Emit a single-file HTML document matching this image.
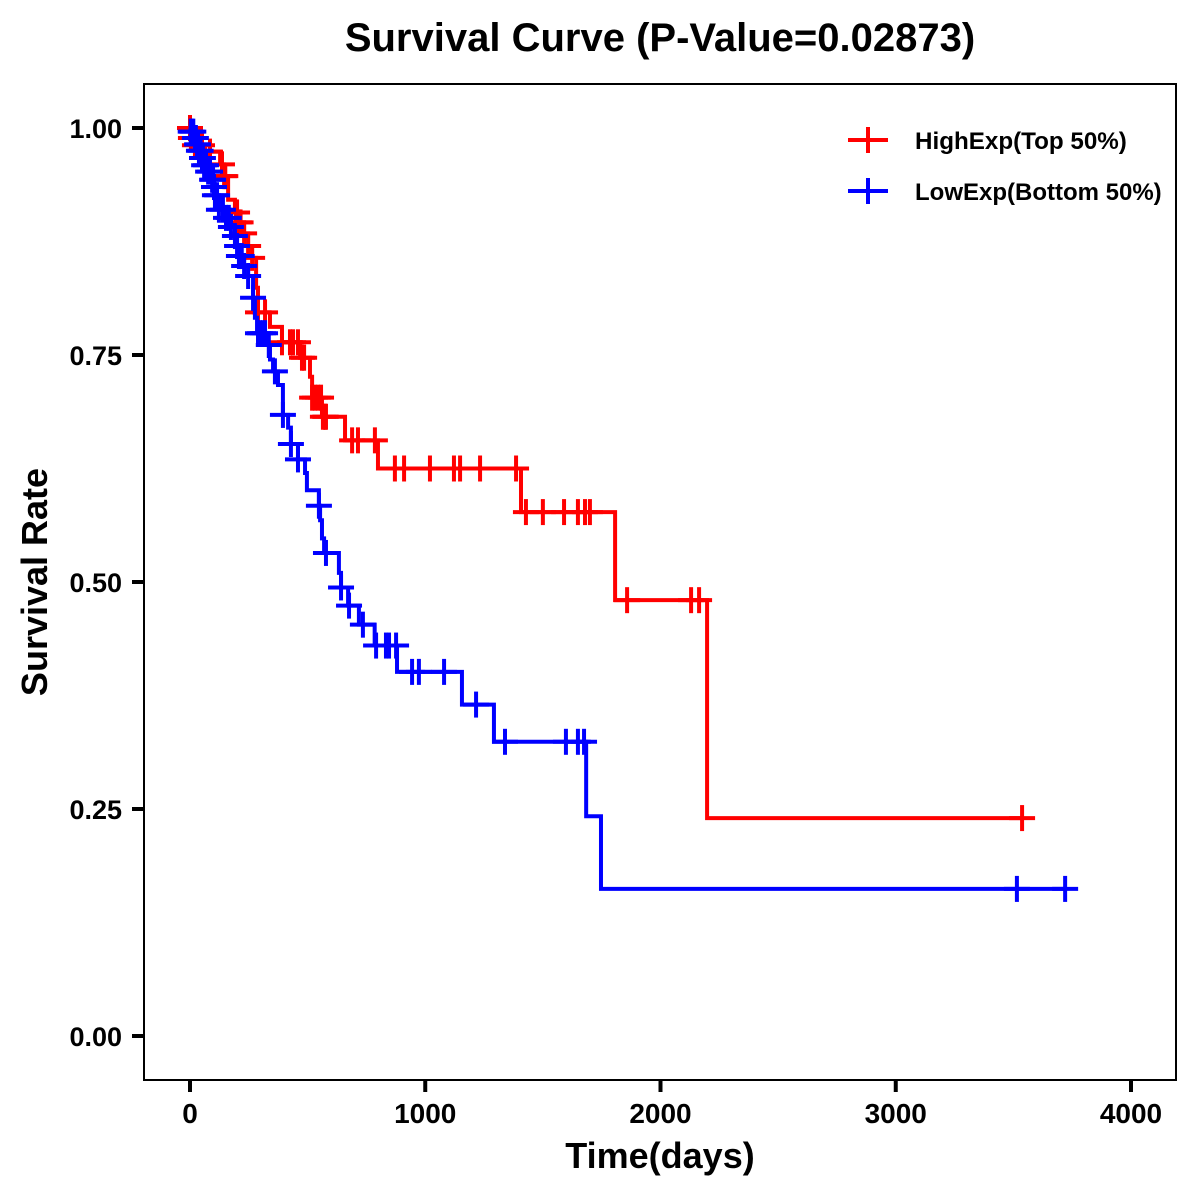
<!DOCTYPE html>
<html>
<head>
<meta charset="utf-8">
<title>Survival Curve</title>
<style>
html,body{margin:0;padding:0;background:#fff;}
svg{display:block;}
text{font-family:"Liberation Sans",Arial,sans-serif;font-weight:bold;fill:#000;}
</style>
</head>
<body>
<svg id="chart" xmlns="http://www.w3.org/2000/svg" width="1200" height="1200" viewBox="0 0 1200 1200">
  <rect x="0" y="0" width="1200" height="1200" fill="#fff"/>
  <text x="660" y="51" font-size="40" text-anchor="middle">Survival Curve (P-Value=0.02873)</text>
  <rect x="144" y="84" width="1032" height="996" fill="none" stroke="#000" stroke-width="2"/>
  <g id="axes"></g>
  <g id="series"></g>
  <text x="660" y="1168" font-size="36" text-anchor="middle">Time(days)</text>
  <text transform="translate(47,582) rotate(-90)" font-size="36" text-anchor="middle">Survival Rate</text>
  <g>
    <g>
      <line x1="848" x2="888" y1="140" y2="140" stroke="#ff0000" stroke-width="4"/>
      <line x1="868" x2="868" y1="127" y2="153" stroke="#ff0000" stroke-width="4"/>
      <text x="915" y="149" font-size="24.2">HighExp(Top 50%)</text>
    </g>
    <g>
      <line x1="848" x2="888" y1="191" y2="191" stroke="#0000ff" stroke-width="4"/>
      <line x1="868" x2="868" y1="178" y2="204" stroke="#0000ff" stroke-width="4"/>
      <text x="915" y="200" font-size="24">LowExp(Bottom 50%)</text>
    </g>
  </g>
</svg>
<script>
var xTicks = [0, 1000, 2000, 3000, 4000];
var yTicks = [0, 0.25, 0.5, 0.75, 1];
var yTickLabels = ['0.00', '0.25', '0.50', '0.75', '1.00'];

var highTimes = [0, 4, 21, 64, 128, 145, 162, 191, 208, 230, 247, 264, 281, 289, 340, 391, 468, 510, 519, 561, 659, 799, 1407, 1807, 2198];
var highSurv = [1.000, 0.989, 0.981, 0.974, 0.960, 0.947, 0.921, 0.907, 0.896, 0.884, 0.870, 0.857, 0.824, 0.797, 0.781, 0.764, 0.747, 0.726, 0.703, 0.682, 0.656, 0.625, 0.577, 0.480, 0.240];
var highEnd = 3537;
var highCensor = [0, 4, 21, 51, 85, 136, 145, 150, 195, 200, 208, 215, 230, 247, 264, 289, 319, 391, 425, 438, 459, 476, 485, 519, 531, 544, 557, 565, 574, 578, 689, 714, 786, 871, 910, 1020, 1122, 1148, 1233, 1386, 1428, 1500, 1590, 1649, 1679, 1700, 1858, 2130, 2164, 3537];

var lowTimes = [0, 2, 21, 30, 38, 51, 60, 77, 94, 102, 106, 123, 153, 174, 191, 200, 208, 230, 247, 268, 276, 285, 323, 340, 353, 374, 395, 417, 429, 459, 489, 497, 548, 553, 561, 570, 633, 642, 672, 718, 785, 880, 1156, 1292, 1684, 1747];
var lowSurv = [1.000, 0.996, 0.989, 0.982, 0.975, 0.967, 0.959, 0.952, 0.943, 0.935, 0.926, 0.910, 0.901, 0.891, 0.881, 0.870, 0.859, 0.848, 0.837, 0.813, 0.791, 0.774, 0.761, 0.745, 0.732, 0.717, 0.684, 0.670, 0.652, 0.635, 0.620, 0.601, 0.584, 0.568, 0.548, 0.532, 0.510, 0.494, 0.474, 0.453, 0.430, 0.401, 0.365, 0.324, 0.242, 0.162];
var lowEnd = 3720;
var lowCensor = [3, 8, 14, 21, 25, 30, 34, 38, 45, 51, 55, 60, 68, 77, 85, 94, 98, 102, 106, 115, 123, 140, 153, 165, 174, 191, 200, 208, 220, 230, 247, 268, 289, 298, 310, 319, 335, 361, 395, 429, 459, 548, 578, 642, 676, 735, 791, 833, 846, 876, 944, 973, 1080, 1216, 1339, 1598, 1649, 1675, 3515, 3720];

var SVG_NS = 'http://www.w3.org/2000/svg';
function xScale(t) { return 190 + t * 0.23525; }
function yScale(s) { return 1036 - s * 908; }

function makeLine(parent, x1, y1, x2, y2, color, width) {
  var l = document.createElementNS(SVG_NS, 'line');
  l.setAttribute('x1', x1);
  l.setAttribute('y1', y1);
  l.setAttribute('x2', x2);
  l.setAttribute('y2', y2);
  l.setAttribute('stroke', color);
  l.setAttribute('stroke-width', width);
  parent.appendChild(l);
  return l;
}

function survivalAt(times, surv, t) {
  var v = surv[0];
  for (var i = 0; i < times.length; i++) {
    if (t >= times[i]) { v = surv[i]; }
  }
  return v;
}

function drawSeries(name, times, surv, end, censor, color) {
  var root = document.getElementById('series');
  var g = document.createElementNS(SVG_NS, 'g');
  
  
  root.appendChild(g);

  var d = 'M' + xScale(times[0]) + ' ' + yScale(surv[0]);
  for (var i = 1; i < times.length; i++) {
    d += 'H' + xScale(times[i]) + 'V' + yScale(surv[i]);
  }
  d += 'H' + xScale(end);
  var p = document.createElementNS(SVG_NS, 'path');
  
  
  p.setAttribute('d', d);
  p.setAttribute('fill', 'none');
  p.setAttribute('stroke', color);
  p.setAttribute('stroke-width', '4');
  g.appendChild(p);

  for (var j = 0; j < censor.length; j++) {
    var cx = xScale(censor[j]);
    var cy = yScale(survivalAt(times, surv, censor[j]));
    var m = document.createElementNS(SVG_NS, 'g');
    
    
    makeLine(m, cx - 13, cy, cx + 13, cy, color, 4);
    makeLine(m, cx, cy - 13, cx, cy + 13, color, 4);
    g.appendChild(m);
  }
}

function drawAxes() {
  var axes = document.getElementById('axes');
  xTicks.forEach(function (v) {
    var px = xScale(v);
    var tick = makeLine(axes, px, 1080, px, 1092, '#000', 4);
    
    
    var label = document.createElementNS(SVG_NS, 'text');
    
    
    label.setAttribute('x', px);
    label.setAttribute('y', 1123);
    label.setAttribute('font-size', '28');
    label.setAttribute('text-anchor', 'middle');
    label.textContent = String(v);
    axes.appendChild(label);
  });
  yTicks.forEach(function (v, i) {
    var py = yScale(v);
    var tick = makeLine(axes, 132, py, 144, py, '#000', 4);
    
    
    var label = document.createElementNS(SVG_NS, 'text');
    
    
    label.setAttribute('x', 122);
    label.setAttribute('y', py + 10);
    label.setAttribute('font-size', '27');
    label.setAttribute('text-anchor', 'end');
    label.textContent = yTickLabels[i];
    axes.appendChild(label);
  });
}

drawAxes();
drawSeries('high-exp', highTimes, highSurv, highEnd, highCensor, '#ff0000');
drawSeries('low-exp', lowTimes, lowSurv, lowEnd, lowCensor, '#0000ff');
</script>
</body>
</html>
